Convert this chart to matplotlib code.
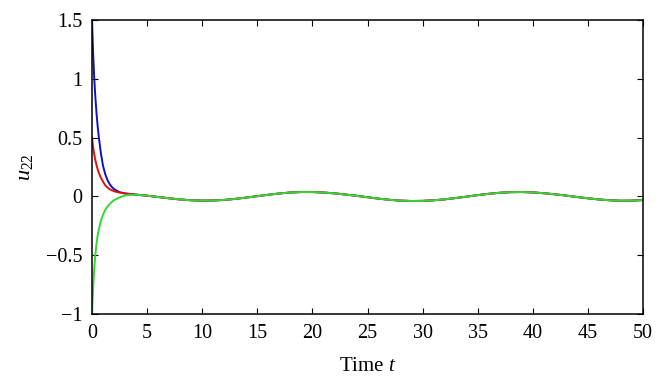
import matplotlib
matplotlib.use("Agg")
from matplotlib import pyplot as plt

# early transient (t in 0..4)
t_early = [0, 0.1, 0.2, 0.3, 0.4, 0.5, 0.6, 0.8, 1.0, 1.2, 1.4, 1.6, 1.8, 2.0, 2.5, 3.0, 3.5, 4.0]
blue_early = [1.5, 1.22, 1.01, 0.85, 0.72, 0.61, 0.52, 0.37, 0.26, 0.19, 0.14, 0.105, 0.08, 0.062,
              0.036, 0.025, 0.02, 0.015]
red_early = [0.5, 0.42, 0.36, 0.31, 0.27, 0.235, 0.205, 0.16, 0.125, 0.095, 0.076, 0.062, 0.052, 0.044,
             0.032, 0.025, 0.02, 0.015]
green_early = [-1.0, -0.78, -0.62, -0.5, -0.41, -0.34, -0.29, -0.21, -0.155, -0.115, -0.088, -0.065,
               -0.047, -0.032, -0.008, 0.008, 0.013, 0.014]

# common slow oscillation (t in 5..50)
t_late = list(range(5, 51))
u_late = [0.006, -0.005, -0.016, -0.026, -0.033, -0.036, -0.035, -0.03, -0.021, -0.01, 0.002,
          0.014, 0.025, 0.033, 0.037, 0.037, 0.033, 0.026, 0.016, 0.005, -0.007, -0.019, -0.029,
          -0.036, -0.039, -0.038, -0.033, -0.025, -0.014, -0.002, 0.011, 0.022, 0.031, 0.036,
          0.037, 0.034, 0.027, 0.018, 0.007, -0.005, -0.016, -0.026, -0.033, -0.037, -0.036, -0.031]

plt.rcParams['font.family'] = ['Liberation Serif', 'DejaVu Serif']
plt.rcParams['mathtext.fontset'] = 'custom'
plt.rcParams['mathtext.rm'] = 'Liberation Serif'
plt.rcParams['mathtext.it'] = 'Liberation Serif:italic'

fig = plt.figure(figsize=(6.64, 3.85), dpi=100)
ax = fig.add_axes([92 / 664, 1 - 314 / 385, (643 - 92) / 664, (314 - 20) / 385])

for early, color in [(blue_early, "#1010c8"), (red_early, "#e01010"), (green_early, "#30d830")]:
    ax.plot(t_early + t_late, early + u_late, color=color, lw=1.4)

ax.set_xlim(0, 50)
ax.set_ylim(-1, 1.5)
ax.set_xticks(range(0, 51, 5))
ax.set_yticks([-1, -0.5, 0, 0.5, 1, 1.5])
ax.set_yticklabels(["\u22121", "\u22120.5", "0", "0.5", "1", "1.5"])
ax.tick_params(direction="in", top=True, right=True, length=4.5, labelsize=14.5)
ax.tick_params(axis="x", pad=7)
ax.tick_params(axis="y", pad=7)
for s in ax.spines.values():
    s.set_linewidth(1.1)
ax.set_xlabel(r"Time $t$", fontsize=15, labelpad=10)
ax.set_ylabel(r"$u_{22}$", fontsize=16, labelpad=8)

plt.savefig("out.png")
plt.close(fig)
